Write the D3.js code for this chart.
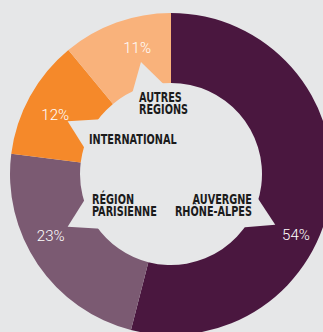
<!DOCTYPE html>
<html>
<head>
<script src="https://d3js.org/d3.v7.min.js"></script>
<style type="text/css">
    html, body {
        margin: 0;
        padding: 0;
        background: #e6e7e8;
    }
    svg { display: block; }
    .name {
        font-family: "DejaVu Sans Condensed", "DejaVu Sans", sans-serif;
        font-weight: bold;
        font-size: 13.5px;
        fill: #1b1b1b;
    }
    .pct {
        font-family: Roboto, "Open Sans", sans-serif;
        font-weight: 300;
        font-size: 15px;
        fill: #ffffff;
    }
</style>
</head>
<body>
<div id="chart"></div>
<script>
    // data
    var regions = [["AUVERGNE", "RHÔNE-ALPES"], ["RÉGION", "PARISIENNE"], ["INTERNATIONAL"], ["AUTRES", "RÉGIONS"]];
    var shares = [54, 23, 12, 11];
    var colors = ["#4a173f", "#7b5a72", "#f5892a", "#f9b27b"];

    // layout
    var width = 323, height = 332;
    var cx = 171, cy = 174, outerR = 161, innerR = 91;
    var pointerAngle = [116, 243, 297, 345];  // degrees, clockwise from top
    var pctRadius = [139, 135, 130, 131];
    var nameAt = [
        {dx: 81, dy: 30, anchor: "end"},
        {dx: -79, dy: 30, anchor: "start"},
        {dx: -82, dy: -30, anchor: "start"},
        {dx: -32, dy: -72, anchor: "start"}
    ];
    var squeeze = 0.8; // fake a condensed face

    var svg = d3.select("#chart").append("svg")
        .attr("width", width)
        .attr("height", height);

    var g = svg.append("g").attr("transform", "translate(" + cx + "," + cy + ")");

    var pie = d3.pie().sort(null).value(function(d) { return d; });
    var arc = d3.arc().innerRadius(innerR).outerRadius(outerR);

    g.selectAll("path.slice")
        .data(pie(shares))
        .enter()
        .append("path")
        .attr("class", "slice")
        .attr("d", arc)
        .attr("fill", function(d, i) { return colors[i]; });

    function polar(r, deg) {
        var a = deg * Math.PI / 180;
        return [r * Math.sin(a), -r * Math.cos(a)];
    }

    // little pointers going out of the centre into each slice
    g.selectAll("path.pointer")
        .data(pointerAngle)
        .enter()
        .append("path")
        .attr("class", "pointer")
        .attr("fill", "#e6e7e8")
        .attr("d", function(a) {
            var p1 = polar(innerR - 2, a - 11), p2 = polar(116, a), p3 = polar(innerR - 2, a + 11);
            return "M" + p1 + "L" + p2 + "L" + p3 + "Z";
        });

    g.selectAll("text.pct")
        .data(shares)
        .enter()
        .append("text")
        .attr("class", "pct")
        .attr("text-anchor", "middle")
        .attr("dy", "0.36em")
        .attr("x", function(d, i) { return polar(pctRadius[i], pointerAngle[i])[0]; })
        .attr("y", function(d, i) { return polar(pctRadius[i], pointerAngle[i])[1]; })
        .text(function(d) { return d + "%"; });

    var names = g.selectAll("text.name")
        .data(regions)
        .enter()
        .append("text")
        .attr("class", "name")
        .attr("text-anchor", function(d, i) { return nameAt[i].anchor; })
        .attr("transform", function(d, i) {
            return "translate(" + nameAt[i].dx + "," + nameAt[i].dy + ") scale(" + squeeze + ",1)";
        });

    names.selectAll("tspan")
        .data(function(d) { return d; })
        .enter()
        .append("tspan")
        .attr("x", 0)
        .attr("y", function(d, j) { return j * 12.5; })
        .text(function(d) { return d; });
</script>
</body>
</html>
